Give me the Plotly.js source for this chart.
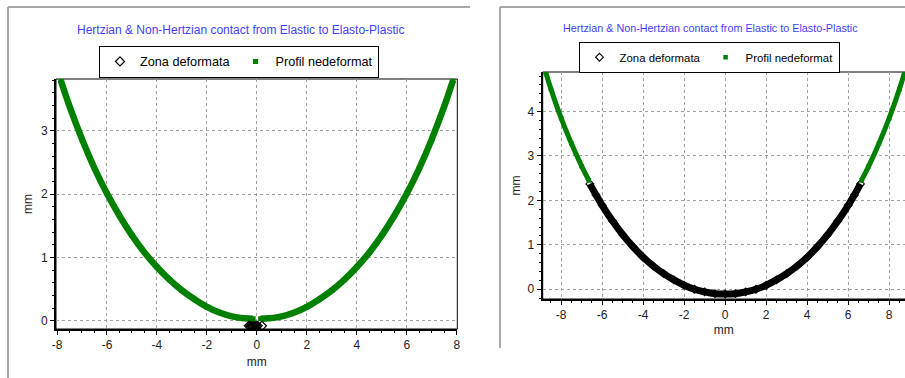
<!DOCTYPE html>
<html>
<head>
<meta charset="utf-8">
<script src="https://cdn.plot.ly/plotly-3.0.1.min.js"></script>
<style>html,body{margin:0;padding:0;background:#fff;}#chart{width:905px;height:378px;}</style>
</head>
<body>
<div id="chart"></div>
<script>
// ---- Data ----
var titleText = "Hertzian & Non-Hertzian contact from Elastic to Elasto-Plastic";
var seriesNames = ["Zona deformata", "Profil nedeformat"];

// Left chart: undeformed profile (green)
var leftProfX = [-7.85,-7.5,-7,-6.5,-6,-5.5,-5,-4.5,-4,-3.5,-3,-2.5,-2,-1.5,-1,-0.5,-0.15,null,
                 0.15,0.5,1,1.5,2,2.5,3,3.5,4,4.5,5,5.5,6,6.5,7,7.5,7.85];
var leftProfY = [3.80,3.39,2.87,2.41,2.01,1.66,1.35,1.08,0.85,0.65,0.48,0.34,0.22,0.13,0.07,0.04,0.03,null,
                 0.03,0.04,0.07,0.13,0.22,0.34,0.48,0.65,0.85,1.08,1.35,1.66,2.01,2.41,2.87,3.39,3.80];
// Left chart: deformed zone (black diamonds)
var leftDefX = [-0.32,-0.27,-0.22,-0.17,-0.12,-0.07,-0.02,0.03,0.2];
var leftDefY = [-0.08,-0.08,-0.08,-0.08,-0.08,-0.08,-0.08,-0.08,-0.08];

// Right chart: undeformed profile (green)
var rightProfX = [-8.75,-8.5,-8,-7.5,-7,-6.65,null,6.65,7,7.5,8,8.5,8.75];
var rightProfY = [4.88,4.51,3.85,3.28,2.77,2.45,null,2.45,2.77,3.28,3.85,4.51,4.88];
// Right chart: deformed zone (black diamonds)
var rightDefX = [-6.6,-6.3,-6,-5.5,-5,-4.5,-4,-3.5,-3,-2.5,-2,-1.5,-1,-0.5,0,
                 0.5,1,1.5,2,2.5,3,3.5,4,4.5,5,5.5,6,6.3,6.6];
var rightDefY = [2.37,2.12,1.89,1.54,1.23,0.96,0.72,0.52,0.35,0.21,0.09,0.00,-0.06,-0.10,-0.11,
                 -0.10,-0.06,0.00,0.09,0.21,0.35,0.52,0.72,0.96,1.23,1.54,1.89,2.12,2.37];

var xTicksLeft = [-8,-6,-4,-2,0,2,4,6,8];
var yTicksLeft = [0,1,2,3];
var xTicksRight = [-8,-6,-4,-2,0,2,4,6,8];
var yTicksRight = [0,1,2,3,4];
var axisTitle = "mm";

// ---- Styles ----
var GREEN = "#008000";
var FONT = "Liberation Sans, Arial, sans-serif";
var W = 905, H = 378;

function px(x){ return x / W; }
function py(y){ return 1 - y / H; }
function noNull(a){ return a.filter(function(v){ return v !== null; }); }

var traces = [
  // left chart
  {x:leftProfX, y:leftProfY, xaxis:"x", yaxis:"y", mode:"lines",
   line:{color:GREEN, width:6.5, shape:"spline", smoothing:1},
   showlegend:false, hoverinfo:"skip", connectgaps:false},
  {x:leftDefX, y:leftDefY, xaxis:"x", yaxis:"y", mode:"markers", name:seriesNames[0], legend:"legend",
   marker:{symbol:"diamond-open", color:"#000", size:7, line:{width:1.2, color:"#000"}}},
  {x:noNull(leftProfX), y:noNull(leftProfY),
   xaxis:"x", yaxis:"y", mode:"markers", name:seriesNames[1], legend:"legend",
   marker:{symbol:"square", color:GREEN, size:5}},
  // right chart
  {x:rightProfX, y:rightProfY, xaxis:"x2", yaxis:"y2", mode:"lines",
   line:{color:GREEN, width:5, shape:"spline", smoothing:1},
   showlegend:false, hoverinfo:"skip", connectgaps:false},
  {x:rightDefX, y:rightDefY, xaxis:"x2", yaxis:"y2", mode:"lines",
   line:{color:"#000", width:7, shape:"spline", smoothing:1},
   showlegend:false, hoverinfo:"skip"},
  {x:rightDefX, y:rightDefY, xaxis:"x2", yaxis:"y2", mode:"markers", name:seriesNames[0], legend:"legend2",
   marker:{symbol:"diamond-open", color:"#000", size:6, line:{width:1.1, color:"#000"}}},
  {x:noNull(rightProfX), y:noNull(rightProfY),
   xaxis:"x2", yaxis:"y2", mode:"markers", name:seriesNames[1], legend:"legend2",
   marker:{symbol:"square", color:GREEN, size:4.5}}
];

function axisBase(){
  return {
    showgrid:true, gridcolor:"#a0a0a0", griddash:"3px,3px", gridwidth:1,
    zeroline:false, showline:true, linecolor:"#000", linewidth:2,
    ticks:"outside", ticklen:4, tickwidth:1, tickcolor:"#000",
    tickfont:{family:FONT, size:12, color:"#222"},
    fixedrange:true
  };
}

var xaxis = Object.assign(axisBase(), {
  domain:[px(56), px(457.3)], range:[-8.04, 8.02], tickvals:xTicksLeft, ticktext:xTicksLeft.map(String),
  anchor:"y", title:{text:axisTitle, font:{family:FONT, size:12, color:"#222"}, standoff:6},
  minor:{dtick:0.5, ticklen:2, tickcolor:"#000", showgrid:false}
});
var yaxis = Object.assign(axisBase(), {
  domain:[py(329), py(79)], range:[-0.13, 3.82], tickvals:yTicksLeft, ticktext:yTicksLeft.map(String),
  anchor:"x", title:{text:axisTitle, font:{family:FONT, size:12, color:"#222"}, standoff:6},
  minor:{dtick:0.2, ticklen:2, tickcolor:"#000", showgrid:false}
});
var xaxis2 = Object.assign(axisBase(), {
  domain:[px(542.7), 1], range:[-8.9, 8.77], tickvals:xTicksRight, ticktext:xTicksRight.map(String),
  anchor:"y2", title:{text:axisTitle, font:{family:FONT, size:12, color:"#222"}, standoff:4},
  minor:{dtick:0.5, ticklen:2, tickcolor:"#000", showgrid:false}
});
var yaxis2 = Object.assign(axisBase(), {
  domain:[py(299), py(72)], range:[-0.22, 4.89], tickvals:yTicksRight, ticktext:yTicksRight.map(String),
  anchor:"x2", title:{text:axisTitle, font:{family:FONT, size:12, color:"#222"}, standoff:4},
  minor:{dtick:0.2, ticklen:2, tickcolor:"#000", showgrid:false}
});

var borderColor = "#a8a8a8";
var layout = {
  width:W, height:H, margin:{l:0, r:0, t:0, b:0},
  paper_bgcolor:"#fff", plot_bgcolor:"#fff",
  xaxis:xaxis, yaxis:yaxis, xaxis2:xaxis2, yaxis2:yaxis2,
  showlegend:true,
  legend:{orientation:"h", x:px(239), xanchor:"center", y:py(45.7), yanchor:"top",
          bgcolor:"#fff", bordercolor:"#000", borderwidth:1,
          font:{family:FONT, size:12.7, color:"#000"}, itemwidth:30, tracegroupgap:0},
  legend2:{orientation:"h", x:px(709), xanchor:"center", y:py(41.7), yanchor:"top",
          bgcolor:"#fff", bordercolor:"#000", borderwidth:1,
          font:{family:FONT, size:11.4, color:"#000"}, itemwidth:30, tracegroupgap:0},
  annotations:[
    {text:titleText, xref:"paper", yref:"paper", x:px(240.5), y:py(30), xanchor:"center", yanchor:"middle",
     showarrow:false, font:{family:FONT, size:12, color:"#3f3fff"}},
    {text:titleText, xref:"paper", yref:"paper", x:px(710), y:py(27.7), xanchor:"center", yanchor:"middle",
     showarrow:false, font:{family:FONT, size:10.8, color:"#3f3fff"}}
  ],
  shapes:[
    // panel frames
    {type:"line", xref:"paper", yref:"paper", x0:px(8), x1:px(470), y0:py(7), y1:py(7), line:{color:borderColor, width:2}},
    {type:"line", xref:"paper", yref:"paper", x0:px(8), x1:px(8), y0:py(7), y1:0, line:{color:borderColor, width:2}},
    {type:"line", xref:"paper", yref:"paper", x0:px(500), x1:1, y0:py(7), y1:py(7), line:{color:borderColor, width:2}},
    {type:"line", xref:"paper", yref:"paper", x0:px(500), x1:px(500), y0:py(7), y1:py(348), line:{color:borderColor, width:2}},
    // thin plot borders (top/right)
    {type:"rect", xref:"x domain", yref:"y domain", x0:0, x1:1, y0:0, y1:1, line:{color:"#000", width:1}, layer:"below"},
    {type:"rect", xref:"x2 domain", yref:"y2 domain", x0:0, x1:1.02, y0:0, y1:1, line:{color:"#000", width:1}, layer:"below"}
  ]
};

Plotly.newPlot("chart", traces, layout, {staticPlot:true, displayModeBar:false});
</script>
</body>
</html>
